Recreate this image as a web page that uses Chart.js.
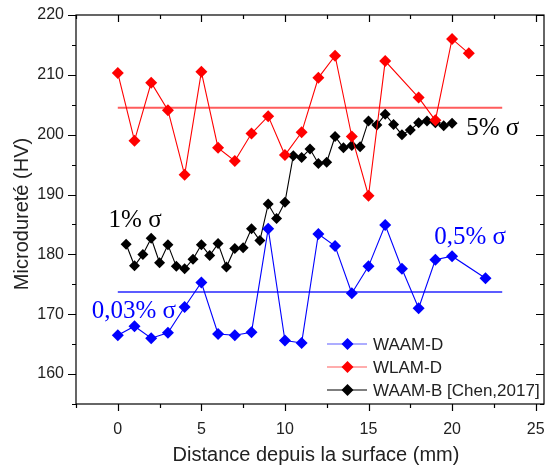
<!DOCTYPE html>
<html>
<head>
<meta charset="utf-8">
<script src="https://cdn.jsdelivr.net/npm/chart.js@4.4.0/dist/chart.umd.min.js"></script>
<style>
html, body { margin: 0; padding: 0; background: #fff; }
</style>
</head>
<body>
<canvas id="myChart" width="550" height="468"></canvas>
<script>
// values
var xWaamD = [0, 1, 2, 3, 4, 5, 6, 7, 8, 9, 10, 11, 12, 13, 14, 15, 16, 17, 18, 19, 20, 22];
var waamD  = [166.5, 168, 166, 166.9, 171.2, 175.3, 166.7, 166.5, 167, 184.3, 165.6, 165.2,
              183.4, 181.4, 173.5, 178, 184.9, 177.6, 171, 179.1, 179.7, 176];

var xWlamD = [0, 1, 2, 3, 4, 5, 6, 7, 8, 9, 10, 11, 12, 13, 14, 15, 16, 18, 19, 20, 21];
var wlamD  = [210.3, 199, 208.7, 204.1, 193.3, 210.5, 197.8, 195.6, 200.2, 203.1, 196.6, 200.4,
              209.5, 213.2, 199.7, 189.8, 212.3, 206.2, 202.4, 216, 213.6];

var xWaamB = [0.5, 1, 1.5, 2, 2.5, 3, 3.5, 4, 4.5, 5, 5.5, 6, 6.5, 7, 7.5, 8, 8.5, 9, 9.5, 10,
              10.5, 11, 11.5, 12, 12.5, 13, 13.5, 14, 14.5, 15, 15.5, 16, 16.5, 17, 17.5, 18, 18.5, 19, 19.5, 20];
var waamB  = [181.7, 178.1, 180, 182.7, 178.6, 181.6, 178, 177.6, 179.2, 181.6, 179.8, 181.8, 177.9, 181, 181.1, 184.3, 182.3, 188.4, 186, 188.7,
              196.5, 196.2, 197.6, 195.2, 195.4, 199.7, 197.8, 198.2, 198, 202.3, 201.6, 203.4, 201.7, 200, 200.8, 202, 202.3, 202, 201.5, 201.9];

var meanX = [0, 23];
var meanWaamD = 173.7;
var meanWlamD = 204.5;

var seriesNames = ['WAAM-D', 'WLAM-D', 'WAAM-B [Chen,2017]'];
var xTicks = [0, 5, 10, 15, 20, 25];
var yTicks = [160, 170, 180, 190, 200, 210, 220];

// sigma notes: text, x, y, colour
var notes = [
  ['5% \u03c3', 20.85, 201.0, '#000'],
  ['1% \u03c3', -0.55, 185.6, '#000'],
  ['0,03% \u03c3', -1.56, 170.5, '#0000ff'],
  ['0,5% \u03c3', 18.93, 182.9, '#0000ff']
];

function pts(xs, ys) {
  return xs.map(function (x, i) { return { x: x, y: ys[i] }; });
}
function flat(xs, v) {
  return xs.map(function (x) { return { x: x, y: v }; });
}

function diamond(ctx, x, y, r) {
  ctx.beginPath();
  ctx.moveTo(x, y - r);
  ctx.lineTo(x + r, y);
  ctx.lineTo(x, y + r);
  ctx.lineTo(x - r, y);
  ctx.closePath();
  ctx.fill();
}

var decor = {
  id: 'decor',
  afterDraw: function (chart) {
    var ctx = chart.ctx, a = chart.chartArea;
    var xs = chart.scales.x, ys = chart.scales.y;
    ctx.save();
    ctx.strokeStyle = '#000';
    ctx.lineWidth = 1.2;
    ctx.strokeRect(a.left, a.top, a.right - a.left, a.bottom - a.top);

    // x ticks: outward at bottom, inward at top
    ctx.beginPath();
    for (var v = -2.5; v <= 25.01; v += 2.5) {
      var px = Math.round(xs.getPixelForValue(v)) + 0.5;
      var len = (v % 5 === 0) ? 7 : 4;
      ctx.moveTo(px, a.bottom); ctx.lineTo(px, a.bottom + len);
      ctx.moveTo(px, a.top); ctx.lineTo(px, a.top + len);
    }
    // y ticks: outward at left, inward at right
    for (var w = 155; w <= 220; w += 5) {
      var py = Math.round(ys.getPixelForValue(w)) + 0.5;
      var l2 = (w % 10 === 0) ? 8 : 4;
      ctx.moveTo(a.left - l2, py); ctx.lineTo(a.left, py);
      ctx.moveTo(a.right - l2, py); ctx.lineTo(a.right, py);
    }
    ctx.stroke();

    // axis titles
    ctx.fillStyle = '#222';
    ctx.font = '20px "Liberation Sans", Arial, sans-serif';
    ctx.textAlign = 'center';
    ctx.textBaseline = 'middle';
    ctx.fillText('Distance depuis la surface (mm)', 316, 455);
    ctx.save();
    ctx.translate(22, 214);
    ctx.rotate(-Math.PI / 2);
    ctx.fillText('Microdureté (HV)', 0, 0);
    ctx.restore();

    // sigma notes
    ctx.font = '25px "Liberation Serif", "Times New Roman", serif';
    ctx.textAlign = 'left';
    notes.forEach(function (n) {
      ctx.fillStyle = n[3];
      ctx.fillText(n[0], xs.getPixelForValue(n[1]), ys.getPixelForValue(n[2]));
    });

    // legend
    var cols = ['#0000ff', '#ff0000', '#000000'];
    var lineCols = ['#5c5cff', '#ff5c5c', '#000000'];
    var rows = [344, 367, 390];
    ctx.font = '17px "Liberation Sans", Arial, sans-serif';
    seriesNames.forEach(function (name, i) {
      ctx.strokeStyle = lineCols[i];
      ctx.lineWidth = 1.2;
      ctx.beginPath();
      ctx.moveTo(327, rows[i]); ctx.lineTo(367, rows[i]);
      ctx.stroke();
      ctx.fillStyle = cols[i];
      diamond(ctx, 347.5, rows[i], 6);
      ctx.fillStyle = '#222';
      ctx.fillText(name, 373, rows[i] + 1);
    });
    ctx.restore();
  }
};

var ctx = document.getElementById('myChart').getContext('2d');
var chart = new Chart(ctx, {
  type: 'scatter',
  data: {
    datasets: [{
      label: seriesNames[0],
      data: pts(xWaamD, waamD),
      showLine: true,
      borderColor: '#0000ff',
      backgroundColor: '#0000ff',
      borderWidth: 1.1,
      pointStyle: 'rectRot',
      pointRadius: 6,
      pointBorderWidth: 0
    }, {
      label: seriesNames[1],
      data: pts(xWlamD, wlamD),
      showLine: true,
      borderColor: '#ff0000',
      backgroundColor: '#ff0000',
      borderWidth: 1.1,
      pointStyle: 'rectRot',
      pointRadius: 6,
      pointBorderWidth: 0
    }, {
      label: seriesNames[2],
      data: pts(xWaamB, waamB),
      showLine: true,
      borderColor: '#000000',
      backgroundColor: '#000000',
      borderWidth: 1.1,
      pointStyle: 'rectRot',
      pointRadius: 5.5,
      pointBorderWidth: 0
    }, {
      label: 'mean D',
      data: flat(meanX, meanWaamD),
      showLine: true,
      borderColor: '#5c5cff',
      borderWidth: 2,
      pointRadius: 0
    }, {
      label: 'mean L',
      data: flat(meanX, meanWlamD),
      showLine: true,
      borderColor: '#ff5c5c',
      borderWidth: 2,
      pointRadius: 0
    }]
  },
  options: {
    responsive: false,
    animation: false,
    layout: { padding: { top: 15, right: 2, left: 0, bottom: 0 } },
    plugins: { legend: { display: false }, tooltip: { enabled: false } },
    scales: {
      x: {
        type: 'linear',
        min: -2.5,
        max: 25.5,
        afterBuildTicks: function (s) { s.ticks = xTicks.map(function (v) { return { value: v }; }); },
        afterFit: function (s) { s.height = 64; s.paddingLeft = 0; s.paddingRight = 0; },
        grid: { display: false, drawTicks: false },
        border: { display: false },
        ticks: { padding: 16, color: '#222', maxRotation: 0, autoSkip: false,
                 font: { family: '"Liberation Sans", Arial, sans-serif', size: 16 } }
      },
      y: {
        min: 155,
        max: 220,
        afterBuildTicks: function (s) { s.ticks = yTicks.map(function (v) { return { value: v }; }); },
        afterFit: function (s) { s.width = 76; s.paddingTop = 0; s.paddingBottom = 0; },
        grid: { display: false, drawTicks: false },
        border: { display: false },
        ticks: { padding: 12, color: '#222',
                 font: { family: '"Liberation Sans", Arial, sans-serif', size: 16 } }
      }
    }
  },
  plugins: [decor]
});
</script>
</body>
</html>
